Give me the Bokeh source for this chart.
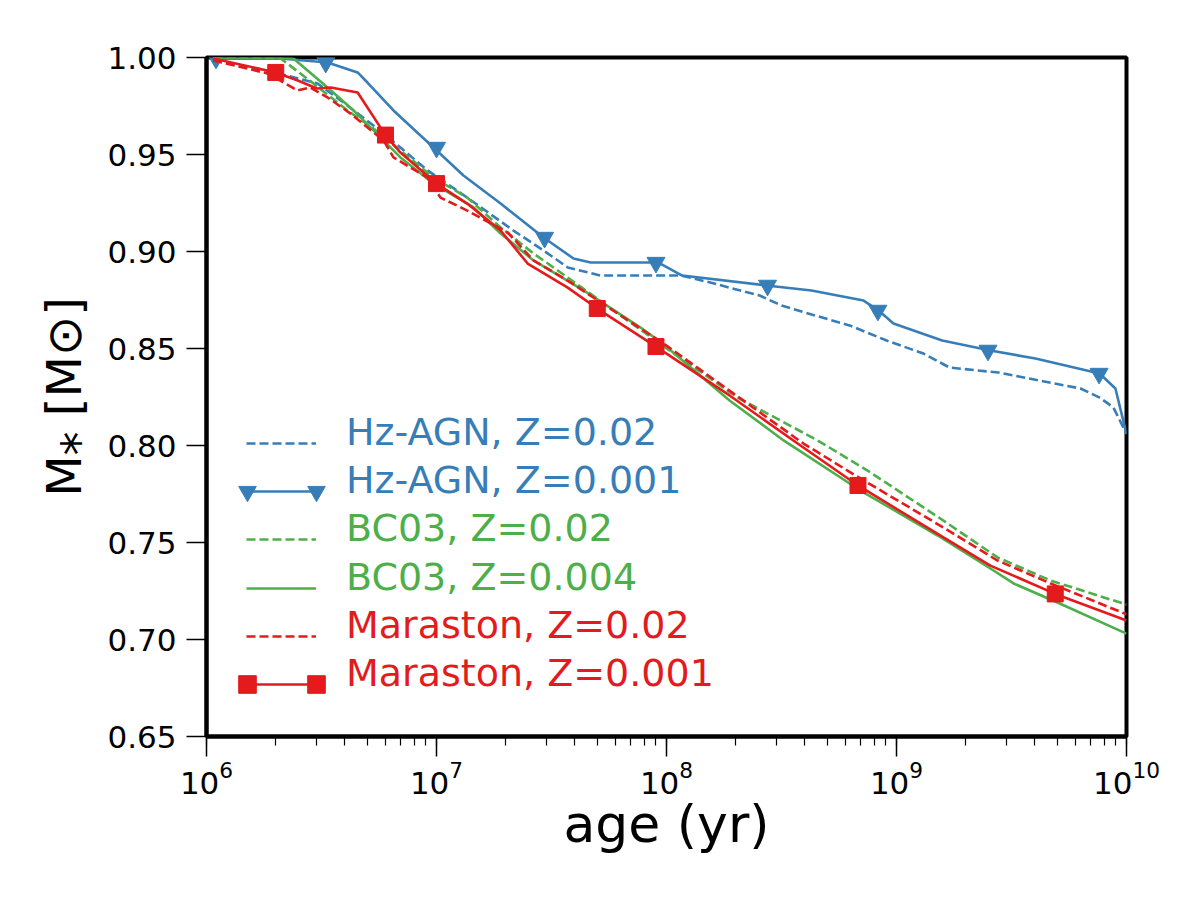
from bokeh.plotting import figure
from bokeh.models import Range1d, FixedTicker, NumeralTickFormatter, Legend, LegendItem
from bokeh.embed import file_html
from bokeh.resources import INLINE

# ---------------- data ----------------
hz_z002_age = [1.07e6, 1.84e6, 3.04e6, 3.94e6, 5.53e6, 6.97e6, 9.14e6, 1.36e7, 2.16e7, 2.92e7,
               3.72e7, 5.16e7, 1.16e8, 1.55e8, 2.54e8, 3.16e8, 3.98e8, 6.25e8, 9.06e8, 1.31e9,
               1.70e9, 2.77e9, 6.31e9, 7.64e9, 8.77e9, 1.0e10]
hz_z002_mass = [0.9985, 0.9933, 0.9866, 0.9768, 0.9634, 0.9536, 0.9418, 0.9278, 0.9108, 0.9005,
                0.8918, 0.8876, 0.8876, 0.8840, 0.8773, 0.8722, 0.8686, 0.8619, 0.8541, 0.8474,
                0.8402, 0.8376, 0.8294, 0.8247, 0.8196, 0.8060]

hz_z0001_age = [1.07e6, 2.10e6, 3.36e6, 4.54e6, 5.01e6, 6.50e6, 9.70e6, 1.31e7, 1.90e7, 2.92e7,
                3.94e7, 4.68e7, 9.23e7, 1.17e8, 2.72e8, 4.27e8, 7.19e8, 8.36e8, 9.70e8, 1.58e9,
                2.56e9, 4.02e9, 7.64e9, 8.95e9, 1.0e10]
hz_z0001_mass = [0.9995, 0.9995, 0.9974, 0.9923, 0.9871, 0.9727, 0.9536, 0.9392, 0.9247, 0.9072,
                 0.8964, 0.8943, 0.8943, 0.8876, 0.8825, 0.8799, 0.8747, 0.8696, 0.8629, 0.8541,
                 0.8490, 0.8448, 0.8371, 0.8294, 0.8060]
hz_z0001_mark_age = [1.1e6, 3.3e6, 1.0e7, 2.95e7, 9.0e7, 2.75e8, 8.3e8, 2.5e9, 7.6e9]
hz_z0001_mark_mass = [0.9995, 0.9974, 0.9536, 0.9072, 0.8943, 0.8825, 0.8696, 0.8490, 0.8371]

bc03_z002_age = [1.07e6, 2.10e6, 2.92e6, 4.10e6, 5.32e6, 6.97e6, 9.70e6, 1.36e7, 1.90e7, 2.64e7,
                 3.72e7, 9.62e7, 2.04e8, 4.54e8, 7.48e8, 1.60e9, 2.75e9, 4.68e9, 1.0e10]
bc03_z002_mass = [1.0, 0.9995, 0.9866, 0.9727, 0.9634, 0.9520, 0.9381, 0.9278, 0.9124, 0.8990,
                  0.8866, 0.8515, 0.8247, 0.8026, 0.7871, 0.7613, 0.7423, 0.7304, 0.7180]

bc03_z0004_age = [1.07e6, 2.10e6, 2.39e6, 3.36e6, 4.36e6, 5.71e6, 6.97e6, 9.70e6, 1.45e7, 1.90e7,
                  2.64e7, 4.36e7, 7.71e7, 9.62e7, 1.88e8, 3.23e8, 6.97e8, 1.51e9, 2.56e9, 3.23e9,
                  5.01e9, 1.0e10]
bc03_z0004_mass = [1.0, 1.0, 0.9995, 0.9845, 0.9727, 0.9588, 0.9485, 0.9350, 0.9227, 0.9093,
                   0.8954, 0.8800, 0.8608, 0.8526, 0.8232, 0.8026, 0.7768, 0.7536, 0.7366, 0.7289,
                   0.7191, 0.7030]

mar_z002_age = [1.07e6, 1.84e6, 2.49e6, 2.83e6, 3.36e6, 4.23e6, 5.89e6, 6.50e6, 9.14e6, 1.04e7,
                1.36e7, 2.04e7, 2.64e7, 3.72e7, 1.0e8, 3.94e8, 6.97e8, 1.60e9, 2.75e9, 4.68e9,
                1.0e10]
mar_z002_mass = [0.9985, 0.9918, 0.9830, 0.9845, 0.9794, 0.9711, 0.9572, 0.9485, 0.9381, 0.9278,
                 0.9211, 0.9098, 0.8954, 0.8850, 0.8515, 0.8010, 0.7830, 0.7577, 0.7407, 0.7289,
                 0.7130]

mar_z0001_age = [1.07e6, 2.0e6, 2.51e6, 3.02e6, 3.47e6, 4.54e6, 6.0e6, 6.97e6, 1.0e7, 1.36e7,
                 1.90e7, 2.49e7, 3.72e7, 5.0e7, 9.0e7, 1.88e8, 3.56e8, 6.8e8, 1.60e9, 2.56e9,
                 4.9e9, 1.0e10]
mar_z0001_mass = [0.9995, 0.9923, 0.9880, 0.9840, 0.9845, 0.9820, 0.9600, 0.9510, 0.9350, 0.9247,
                  0.9108, 0.8938, 0.8814, 0.8706, 0.8510, 0.8258, 0.8026, 0.7794, 0.7526, 0.7381,
                  0.7235, 0.7098]
mar_z0001_mark_age = [2.0e6, 6.0e6, 1.0e7, 5.0e7, 9.0e7, 6.8e8, 4.9e9]
mar_z0001_mark_mass = [0.9923, 0.9600, 0.9350, 0.8706, 0.8510, 0.7794, 0.7235]

y_ticks = [0.65, 0.70, 0.75, 0.80, 0.85, 0.90, 0.95, 1.00]
legend_labels = ["Hz-AGN, Z=0.02", "Hz-AGN, Z=0.001", "BC03, Z=0.02", "BC03, Z=0.004",
                 "Maraston, Z=0.02", "Maraston, Z=0.001"]

BLUE = "#377eb8"
GREEN = "#4daf4a"
RED = "#e41a1c"
FONT = "DejaVu Sans"

X0, X1, Y0, Y1 = 1e6, 1e10, 0.65, 1.0
FL, FR, FT, FB = 206, 1126, 57, 736   # frame edges in canvas pixels

# ---------------- figure ----------------
p = figure(width=1200, height=900, x_axis_type="log", output_backend="svg",
           toolbar_location=None, x_range=Range1d(X0, X1), y_range=Range1d(Y0, Y1))
p.min_border_left = FL
p.min_border_right = 1200 - FR
p.min_border_top = FT
p.min_border_bottom = 900 - FB
p.background_fill_color = "white"
p.border_fill_color = "white"
p.outline_line_color = "black"
p.outline_line_width = 4
p.xgrid.visible = False
p.ygrid.visible = False

dash = "9 4"
lw = 2.6
r_hz02 = p.line(hz_z002_age, hz_z002_mass, line_color=BLUE, line_width=lw, line_dash=dash)
r_hz001 = p.line(hz_z0001_age, hz_z0001_mass, line_color=BLUE, line_width=lw)
r_tri = p.scatter(hz_z0001_mark_age, hz_z0001_mark_mass, marker="inverted_triangle", size=18,
                  fill_color=BLUE, line_color=BLUE)
r_bc02 = p.line(bc03_z002_age, bc03_z002_mass, line_color=GREEN, line_width=lw, line_dash=dash)
r_bc004 = p.line(bc03_z0004_age, bc03_z0004_mass, line_color=GREEN, line_width=lw)
r_mar02 = p.line(mar_z002_age, mar_z002_mass, line_color=RED, line_width=lw, line_dash=dash)
r_mar001 = p.line(mar_z0001_age, mar_z0001_mass, line_color=RED, line_width=lw)
r_sq = p.scatter(mar_z0001_mark_age, mar_z0001_mark_mass, marker="square", size=16,
                 fill_color=RED, line_color=RED)

# ---------------- axes ----------------
for ax in (p.xaxis, p.yaxis):
    ax.axis_line_width = 4
    ax.axis_line_color = "black"
    ax.major_tick_line_width = 1.5
    ax.minor_tick_line_width = 1.2
    ax.major_tick_out = 20
    ax.major_tick_in = 0
    ax.minor_tick_out = 9
    ax.minor_tick_in = 0
    ax.major_label_text_font = FONT
    ax.major_label_text_font_size = "31px"
    ax.major_label_text_color = "black"
    ax.axis_label_text_font = FONT
    ax.axis_label_text_font_style = "normal"
    ax.axis_label_text_color = "black"

p.yaxis.ticker = FixedTicker(ticks=y_ticks)
p.yaxis.formatter = NumeralTickFormatter(format="0.00")
p.yaxis.minor_tick_line_color = None
p.yaxis.major_label_standoff = 10
p.yaxis.axis_label = "M\u204e [M\u2299]"
p.yaxis.axis_label_text_font_size = "48px"
p.yaxis.axis_label_standoff = 12

p.xaxis.major_label_standoff = 4
p.xaxis.axis_label = "age (yr)"
p.xaxis.axis_label_text_font_size = "52px"
p.xaxis.axis_label_standoff = -3

# ---------------- legend (one per row, coloured labels) ----------------
text_row_y = [432, 480, 528, 577, 625, 673]
HANDLE_DY = 11
GH = 60

def make_legend(item, vx, row_center, gw, standoff, color="black", size="38px"):
    vy = FB - row_center - GH // 2
    leg = Legend(items=[item], location=(vx, vy), orientation="vertical",
                 glyph_width=gw, glyph_height=GH, label_standoff=standoff,
                 padding=0, margin=0, spacing=0, border_line_color=None,
                 background_fill_alpha=0, label_text_color=color, label_text_font=FONT,
                 label_text_font_size=size)
    p.add_layout(leg)

handle_renderers = [[r_hz02], [r_hz001], [r_bc02], [r_bc004], [r_mar02], [r_mar001]]
colors = [BLUE, BLUE, GREEN, GREEN, RED, RED]
for i, lab in enumerate(legend_labels):
    # coloured label text
    make_legend(LegendItem(label=lab, renderers=[]), 346 - FL, text_row_y[i], 0, 0, colors[i])
    # line handle
    make_legend(LegendItem(label=" ", renderers=handle_renderers[i]), 246 - FL,
                text_row_y[i] + HANDLE_DY, 70, 0, colors[i], "10px")

for r, row in ((r_tri, 1), (r_sq, 5)):
    for cx in (247, 316):
        make_legend(LegendItem(label=" ", renderers=[r]), cx - 22 - FL,
                    text_row_y[row] + HANDLE_DY, 44, 0, "black", "10px")

open("out.html", "w").write(file_html(p, INLINE))
